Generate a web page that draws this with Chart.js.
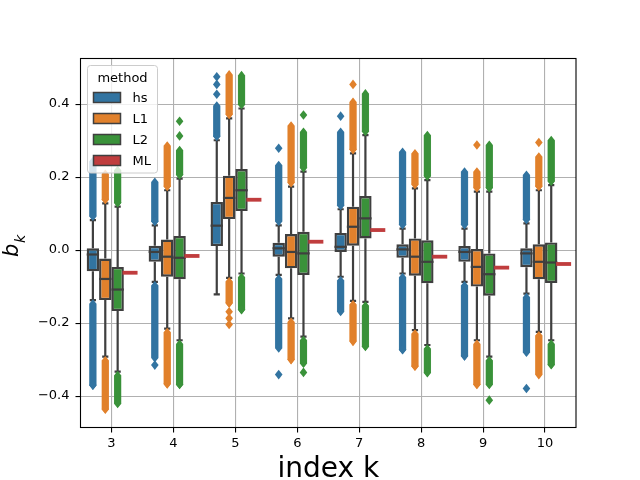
<!DOCTYPE html>
<html>
<head>
<meta charset="utf-8">
<script src="https://cdn.jsdelivr.net/npm/chart.js@4.4.0/dist/chart.umd.min.js"></script>
<style>
  html, body { margin: 0; padding: 0; background: #fff; }
  #wrap { width: 640px; height: 480px; }
</style>
</head>
<body>
<div id="wrap"><canvas id="boxChart" width="640" height="480"></canvas></div>
<script>
// categories (index k) and y ticks
const categories = ["3", "4", "5", "6", "7", "8", "9", "10"];
const yTicks = [-0.4, -0.2, 0.0, 0.2, 0.4];

// box stats per category: [whisker low, q1, median, q3, whisker high]
const hsStats = [
  [-0.137, -0.058, -0.012, 0.005, 0.082],
  [-0.087, -0.032, -0.005, 0.012, 0.068],
  [-0.121, 0.011, 0.067, 0.132, 0.301],
  [-0.068, -0.018, 0.005, 0.020, 0.068],
  [-0.073, -0.005, 0.009, 0.047, 0.112],
  [-0.064, -0.021, 0.002, 0.016, 0.059],
  [-0.087, -0.032, -0.005, 0.011, 0.059],
  [-0.119, -0.047, -0.009, 0.005, 0.073]
];
const l1Stats = [
  [-0.292, -0.137, -0.079, -0.023, 0.128],
  [-0.215, -0.073, -0.018, 0.029, 0.164],
  [-0.076, 0.085, 0.143, 0.204, 0.361],
  [-0.187, -0.050, -0.005, 0.044, 0.174],
  [-0.139, 0.012, 0.064, 0.119, 0.265],
  [-0.219, -0.070, -0.018, 0.032, 0.169],
  [-0.247, -0.100, -0.046, 0.003, 0.160],
  [-0.224, -0.080, -0.032, 0.016, 0.164]
];
const l2Stats = [
  [-0.333, -0.167, -0.108, -0.046, 0.119],
  [-0.247, -0.080, -0.021, 0.039, 0.196],
  [-0.064, 0.107, 0.164, 0.222, 0.388],
  [-0.237, -0.068, -0.009, 0.050, 0.215],
  [-0.142, 0.032, 0.087, 0.148, 0.315],
  [-0.260, -0.091, -0.032, 0.027, 0.192],
  [-0.292, -0.125, -0.066, -0.009, 0.160],
  [-0.247, -0.090, -0.034, 0.021, 0.178]
];
// ML is one value per k
const mlValues = [-0.062, -0.016, 0.138, 0.023, 0.055, -0.018, -0.048, -0.038];

// dense outlier runs: [lowest flier, highest flier] (null = none)
const hsFliers = [
  [-0.370, 0.243], [-0.295, 0.186], [null, 0.395], [-0.268, 0.232],
  [-0.168, 0.323], [-0.273, 0.268], [-0.290, 0.214], [-0.280, 0.205]
];
const l1Fliers = [
  [-0.436, 0.208], [-0.367, 0.285], [-0.145, 0.480], [-0.300, 0.340],
  [-0.250, 0.405], [-0.318, 0.264], [-0.368, 0.214], [-0.341, 0.255]
];
const l2Fliers = [
  [-0.420, 0.218], [-0.368, 0.273], [-0.163, 0.478], [-0.310, 0.323],
  [-0.264, 0.428], [-0.336, 0.314], [-0.368, 0.287], [-0.314, 0.300]
];
// single fliers standing apart from the runs
const hsLoners = [[], [-0.315], [0.427, 0.454, 0.475], [0.279, -0.341], [0.367], [], [], [-0.379]];
const l1Loners = [[], [], [-0.169, -0.187, -0.204], [], [0.454], [], [0.288], [0.295]];
const l2Loners = [[], [0.313, 0.353], [], [0.370, -0.335], [], [], [-0.411], []];

const methods = ["hs", "L1", "L2", "ML"];
const colors = ["#3274a1", "#e1812c", "#3a923a", "#c03d3e"];
const edgeGray = "#3f3f3f";

const boxSets = [
  { stats: hsStats, fliers: hsFliers, loners: hsLoners },
  { stats: l1Stats, fliers: l1Fliers, loners: l1Loners },
  { stats: l2Stats, fliers: l2Fliers, loners: l2Loners }
];

function diamond(ctx, x, y) {
  ctx.beginPath();
  ctx.moveTo(x, y - 4.8);
  ctx.lineTo(x + 3.8, y);
  ctx.lineTo(x, y + 4.8);
  ctx.lineTo(x - 3.8, y);
  ctx.closePath();
  ctx.fill();
}

function run(ctx, x, yA, yB) {
  const top = Math.min(yA, yB), bot = Math.max(yA, yB);
  for (let py = top; py <= bot; py += 1) diamond(ctx, x, py);
  diamond(ctx, x, bot);
}

// whiskers, caps and fliers behind the boxes
const whiskerPlugin = {
  id: "whiskers",
  beforeDatasetsDraw(chart) {
    const ctx = chart.ctx;
    const y = chart.scales.y;
    ctx.save();
    boxSets.forEach((set, di) => {
      const meta = chart.getDatasetMeta(di);
      meta.data.forEach((bar, i) => {
        const [lo, q1, , q3, hi] = set.stats[i];
        const x = bar.x;
        const capHalf = bar.width / 4;
        ctx.strokeStyle = edgeGray;
        ctx.lineWidth = 2.2;
        ctx.beginPath();
        ctx.moveTo(x, y.getPixelForValue(q3));
        ctx.lineTo(x, y.getPixelForValue(hi));
        ctx.moveTo(x, y.getPixelForValue(q1));
        ctx.lineTo(x, y.getPixelForValue(lo));
        ctx.moveTo(x - capHalf, y.getPixelForValue(hi));
        ctx.lineTo(x + capHalf, y.getPixelForValue(hi));
        ctx.moveTo(x - capHalf, y.getPixelForValue(lo));
        ctx.lineTo(x + capHalf, y.getPixelForValue(lo));
        ctx.stroke();

        ctx.fillStyle = colors[di];
        const [fLo, fHi] = set.fliers[i];
        if (fHi !== null) run(ctx, x, y.getPixelForValue(hi) - 4, y.getPixelForValue(fHi));
        if (fLo !== null) run(ctx, x, y.getPixelForValue(lo) + 4, y.getPixelForValue(fLo));
        set.loners[i].forEach(v => diamond(ctx, x, y.getPixelForValue(v)));
      });
    });
    ctx.restore();
  },
  afterDatasetsDraw(chart) {
    const ctx = chart.ctx;
    const y = chart.scales.y;
    const area = chart.chartArea;
    ctx.save();
    // medians
    boxSets.forEach((set, di) => {
      chart.getDatasetMeta(di).data.forEach((bar, i) => {
        const py = y.getPixelForValue(set.stats[i][2]);
        ctx.strokeStyle = edgeGray;
        ctx.lineWidth = 2.2;
        ctx.beginPath();
        ctx.moveTo(bar.x - bar.width / 2, py);
        ctx.lineTo(bar.x + bar.width / 2, py);
        ctx.stroke();
      });
    });
    // ML, a flat box
    chart.getDatasetMeta(3).data.forEach((bar, i) => {
      const py = y.getPixelForValue(mlValues[i]);
      ctx.fillStyle = colors[3];
      ctx.fillRect(bar.x - bar.width / 2 - 1.3, py - 1.9, bar.width + 2.6, 3.8);
    });

    // frame
    ctx.strokeStyle = "#000";
    ctx.lineWidth = 1.1;
    ctx.strokeRect(area.left, area.top, area.right - area.left, area.bottom - area.top);

    // legend
    ctx.fillStyle = "rgba(255,255,255,0.8)";
    ctx.strokeStyle = "#cccccc";
    ctx.lineWidth = 1;
    ctx.beginPath();
    ctx.roundRect(87.5, 65.5, 70, 107.5, 3);
    ctx.fill();
    ctx.stroke();
    ctx.font = "13px 'DejaVu Sans'";
    ctx.fillStyle = "#000";
    ctx.textAlign = "center";
    ctx.textBaseline = "alphabetic";
    ctx.fillText("method", 122.5, 81.5);
    ctx.textAlign = "left";
    methods.forEach((m, k) => {
      const cy = 97.5 + k * 21;
      ctx.fillStyle = colors[k];
      ctx.fillRect(93.5, cy - 5, 27, 10);
      ctx.strokeStyle = edgeGray;
      ctx.lineWidth = 1.5;
      ctx.strokeRect(93.5, cy - 5, 27, 10);
      ctx.fillStyle = "#000";
      ctx.fillText(m, 132.5, cy + 4.7);
    });

    // axis titles
    ctx.textAlign = "center";
    ctx.font = "28px 'DejaVu Sans'";
    ctx.fillText("index k", (area.left + area.right) / 2, 476.5);

    ctx.translate(18.3, 257);
    ctx.rotate(-Math.PI / 2);
    ctx.textAlign = "left";
    ctx.font = "italic 21px 'DejaVu Sans'";
    ctx.fillText("b", 0, 0);
    ctx.font = "italic 14.5px 'DejaVu Sans'";
    ctx.fillText("k", 14, 6.7);
    ctx.restore();
  }
};

const ctx = document.getElementById("boxChart").getContext("2d");
const boxChart = new Chart(ctx, {
  type: "bar",
  data: {
    labels: categories,
    datasets: [
      { label: "hs", data: hsStats.map(s => [s[1], s[3]]), backgroundColor: colors[0] },
      { label: "L1", data: l1Stats.map(s => [s[1], s[3]]), backgroundColor: colors[1] },
      { label: "L2", data: l2Stats.map(s => [s[1], s[3]]), backgroundColor: colors[2] },
      { label: "ML", data: mlValues.map(v => [v, v]), backgroundColor: "rgba(0,0,0,0)", borderWidth: 0 }
    ].map(d => Object.assign({
      borderColor: edgeGray,
      borderWidth: 2.4,
      borderSkipped: false,
      categoryPercentage: 0.8,
      barPercentage: 1.0
    }, d))
  },
  options: {
    responsive: false,
    animation: false,
    devicePixelRatio: 1,
    layout: { padding: { left: 0, right: 64, top: 58.5, bottom: 0 } },
    plugins: { legend: { display: false }, tooltip: { enabled: false } },
    scales: {
      x: {
        grid: { offset: false, color: "#b0b0b0", lineWidth: 1.1, tickColor: "#000", tickLength: 5, tickWidth: 1.1 },
        border: { display: false },
        ticks: { color: "#000", font: { family: "DejaVu Sans", size: 13 }, padding: 3, maxRotation: 0 },
        afterFit(scale) { scale.height = 52.5; }
      },
      y: {
        min: -0.486,
        max: 0.525,
        grid: { color: "#b0b0b0", lineWidth: 1.1, tickColor: "#000", tickLength: 5, tickWidth: 1.1 },
        border: { display: false },
        ticks: {
          color: "#000",
          font: { family: "DejaVu Sans", size: 13 },
          padding: 6,
          callback: v => v.toFixed(1).replace("-", "\u2212")
        },
        afterBuildTicks(scale) { scale.ticks = yTicks.map(v => ({ value: v })); },
        afterFit(scale) { scale.width = 80.5; }
      }
    }
  },
  plugins: [whiskerPlugin]
});
</script>
</body>
</html>
